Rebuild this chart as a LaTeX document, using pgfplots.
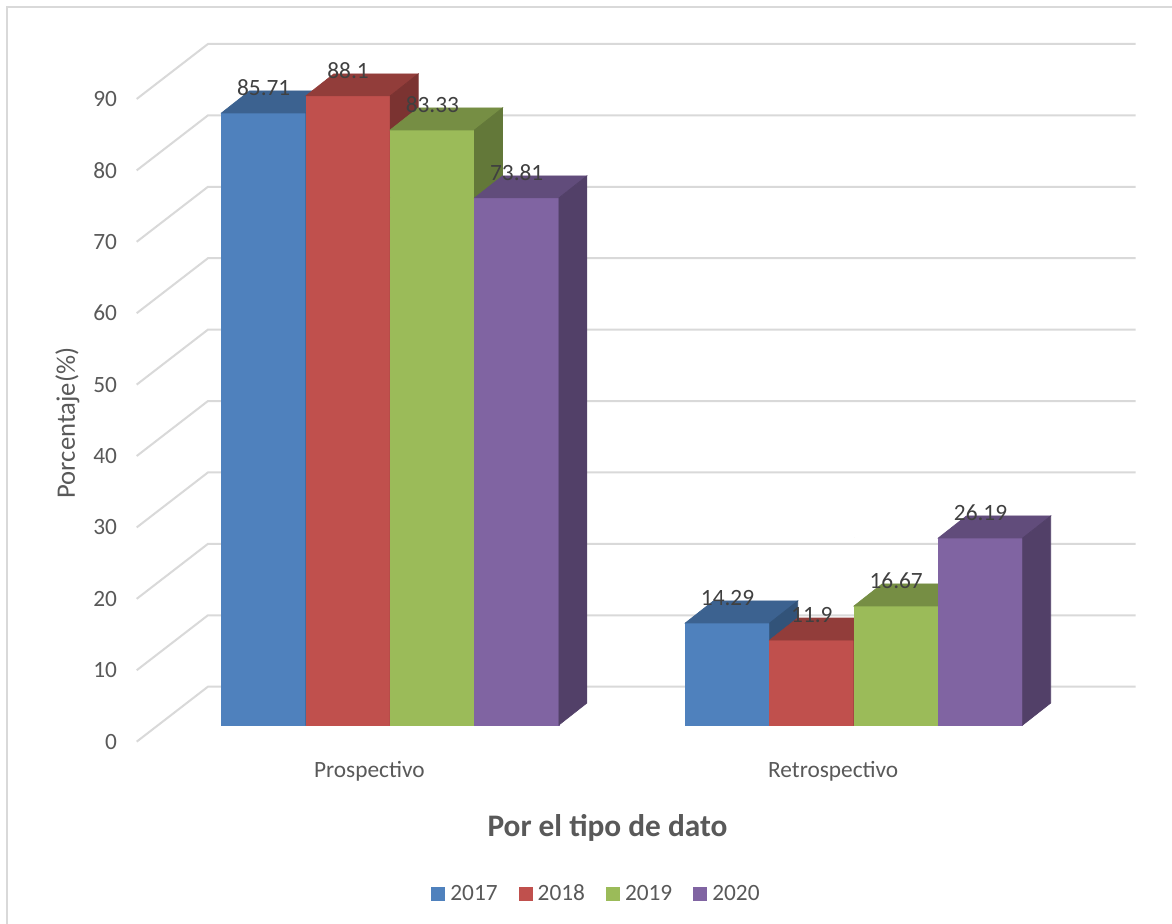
\documentclass[border=0pt]{standalone}
\usepackage{fontspec}
\setmainfont{Carlito}
\usepackage{pgfplots}
\usepackage{pgfplotstable}
\pgfplotsset{compat=1.18}

\definecolor{c17}{HTML}{4F81BD}
\definecolor{c18}{HTML}{C0504D}
\definecolor{c19}{HTML}{9BBB59}
\definecolor{c20}{HTML}{8064A2}
\definecolor{txt}{HTML}{595959}
\definecolor{lbl}{HTML}{404040}
\definecolor{gridc}{HTML}{D9D9D9}

% 0 = Prospectivo, 1 = Retrospectivo
\pgfplotstableread{
x y
0 85.71
1 14.29
}\tA
\pgfplotstableread{
x y
0 88.1
1 11.9
}\tB
\pgfplotstableread{
x y
0 83.33
1 16.67
}\tC
\pgfplotstableread{
x y
0 73.81
1 26.19
}\tD

% bar width 50.6pt, depth 16.8pt x 13.2pt, y unit 4.2847pt
\pgfplotsset{
  front/.style n args={2}{ybar, bar width=50.6pt, bar shift=#1, fill=#2, draw=none,
    legend image code/.code={\fill[##1] (0pt,-4.2pt) rectangle (8.4pt,4.2pt);}},
  % marks are drawn after all bars, so each box is drawn whole here, series by series
  deco/.style n args={2}{forget plot, only marks, scatter, mark=*, mark size=0pt,
    mark options={draw=none, fill=none},
    visualization depends on={rawy \as \hv},
    scatter/@pre marker code/.code={
      \fill[#2] (#1-25.3pt,0pt) rectangle (#1+25.3pt,-\hv*4.2847pt);
      \fill[#2!76!black] (#1-25.3pt,0pt) -- (#1+25.3pt,0pt) -- (#1+42.1pt,13.2pt)
        -- (#1-8.5pt,13.2pt) -- cycle;
      \fill[#2!64!black] (#1+25.3pt,0pt) -- ++(16.8pt,13.2pt) -- ++(0pt,-\hv*4.2847pt)
        -- ++(-16.8pt,-13.2pt) -- cycle;
    },
    scatter/@post marker code/.code={}},
  vals/.style={forget plot, ybar, bar width=50.6pt, bar shift=#1, fill=none, draw=none,
    nodes near coords,
    every node near coord/.append style={anchor=center, xshift=#1, yshift=15pt,
      text=lbl, font=\fontsize{14}{16}\selectfont}},
}

\begin{document}
\begin{tikzpicture}
\begin{scope}[x=0.6pt,y=-0.6pt]
  \path[use as bounding box, fill=white] (0,0) rectangle (1172,924);
  \draw[gridc, line width=1.2pt] (7,924) -- (7,7) -- (1172,7);
\end{scope}
\begin{axis}[
  at={(94.98pt,-435pt)}, anchor=south west,
  x=278.3pt, y=4.2847pt,
  xmin=-0.5, xmax=1.5, ymin=0, ymax=90,
  clip=false,
  axis line style={draw=none},
  major tick length=0pt,
  /pgf/number format/assume math mode=true,
  xtick={0,1}, xticklabels={Prospectivo,Retrospectivo},
  ytick={0,10,...,90},
  xticklabel style={anchor=base, xshift=-12.5pt, yshift=-31.8pt,
    font=\fontsize{14}{16}\selectfont, text=txt},
  yticklabel style={anchor=east, xshift=-21.3pt, yshift=-10pt,
    font=\fontsize{14}{16}\selectfont, text=txt},
  ylabel={Porcentaje(\%)},
  ylabel style={at={(axis description cs:-0.098,0.470)}, anchor=center,
    font=\fontsize{16}{18}\selectfont, text=txt},
  xlabel={Por el tipo de dato},
  xlabel style={at={(axis description cs:0.4842,-0.1738)}, anchor=base,
    font=\fontsize{18.8}{22}\selectfont\bfseries, text=txt},
  legend columns=4,
  legend style={at={(axis description cs:0.474,-0.263)}, anchor=center, draw=none,
    fill=none, font=\fontsize{14}{16}\selectfont, text=txt,
    nodes={inner xsep=3pt, inner ysep=1pt},
    /tikz/every even column/.append style={column sep=9.6pt}},
]
% side wall and back wall grid
\pgfplotsinvokeforeach{0,10,...,90}{
  \draw[gridc, line width=1.2pt]
    ([xshift=-12.96pt, yshift=-10pt]axis cs:-0.5,#1)
    -- ([xshift=29.8pt, yshift=23pt]axis cs:-0.5,#1)
    -- ([xshift=29.8pt, yshift=23pt]axis cs:1.5,#1);
}

\addplot[front={-75.9pt}{c17}] table {\tA};
\addlegendentry{2017}
\addplot[deco={-75.9pt}{c17}] table {\tA};

\addplot[front={-25.3pt}{c18}] table {\tB};
\addlegendentry{2018}
\addplot[deco={-25.3pt}{c18}] table {\tB};

\addplot[front={25.3pt}{c19}] table {\tC};
\addlegendentry{2019}
\addplot[deco={25.3pt}{c19}] table {\tC};

\addplot[front={75.9pt}{c20}] table {\tD};
\addlegendentry{2020}
\addplot[deco={75.9pt}{c20}] table {\tD};

% data labels on top of everything
\addplot[vals={-75.9pt}] table {\tA};
\addplot[vals={-25.3pt}] table {\tB};
\addplot[vals={25.3pt}] table {\tC};
\addplot[vals={75.9pt}] table {\tD};
\end{axis}
\end{tikzpicture}
\end{document}
